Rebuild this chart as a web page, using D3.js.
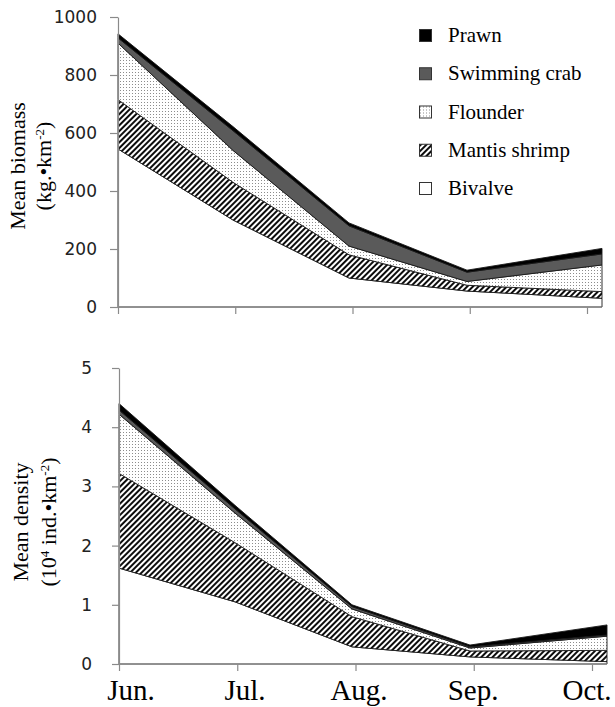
<!DOCTYPE html>
<html><head><meta charset="utf-8">
<script src="https://cdn.jsdelivr.net/npm/d3@7"></script>
<style>body{margin:0;background:#fff;} svg{display:block;}</style>
</head><body>
<svg id="c" width="615" height="707"></svg>
<script>
// ---------- data ----------
const months = ["Jun.", "Jul.", "Aug.", "Sep.", "Oct."];
const species = ["Bivalve", "Mantis shrimp", "Flounder", "Swimming crab", "Prawn"];
const legendOrder = ["Prawn", "Swimming crab", "Flounder", "Mantis shrimp", "Bivalve"];

// Mean biomass (kg·km-2)
const biomassBivalve  = [545, 300, 100, 55, 30];
const biomassMantis   = [170, 130, 80, 20, 23];
const biomassFlounder = [195, 110, 30, 13, 92];
const biomassCrab     = [18, 68, 70, 32, 38];
const biomassPrawn    = [14, 14, 10, 7, 19];
const biomassTicks    = [0, 200, 400, 600, 800, 1000];

// Mean density (10^4 ind·km-2)
const densityBivalve  = [1.62, 1.05, 0.29, 0.12, 0.04];
const densityMantis   = [1.60, 1.00, 0.51, 0.10, 0.19];
const densityFlounder = [1.00, 0.50, 0.13, 0.05, 0.24];
const densityCrab     = [0.07, 0.07, 0.04, 0.02, 0.02];
const densityPrawn    = [0.11, 0.06, 0.03, 0.03, 0.17];
const densityTicks    = [0, 1, 2, 3, 4, 5];

// ---------- setup ----------
const svg = d3.select("#c");
const defs = svg.append("defs");

// dotted pattern (Flounder)
const dots = defs.append("pattern").attr("id", "dots")
  .attr("patternUnits", "userSpaceOnUse").attr("width", 3).attr("height", 3);
dots.append("rect").attr("width", 3).attr("height", 3).attr("fill", "#fff");
dots.append("rect").attr("width", 1).attr("height", 1).attr("fill", "#8c8c8c");

// hatch pattern (Mantis shrimp)
const hatch = defs.append("pattern").attr("id", "hatch")
  .attr("patternUnits", "userSpaceOnUse").attr("width", 4).attr("height", 4)
  .attr("patternTransform", "rotate(45)");
hatch.append("rect").attr("width", 4).attr("height", 4).attr("fill", "#fff");
hatch.append("line").attr("x1", 1).attr("y1", 0).attr("x2", 1).attr("y2", 4)
  .attr("stroke", "#000").attr("stroke-width", 1.9);

const fills = {
  "Bivalve": "#ffffff",
  "Mantis shrimp": "url(#hatch)",
  "Flounder": "url(#dots)",
  "Swimming crab": "#5a5a5a",
  "Prawn": "#000000"
};

function buildRows(arrs) {
  return months.map((m, i) => {
    const r = { month: i };
    species.forEach((s, k) => r[s] = arrs[k][i]);
    return r;
  });
}

function drawPanel(opts) {
  const { rows, ticks, yMax, top, bottom, left, right, tickEnd, dataRange, labelDx, tickLen } = opts;
  const y = d3.scaleLinear().domain([0, yMax]).range([bottom, top]);
  const xData = d3.scaleLinear().domain([0, 1, 2, 3, 4]).range(dataRange);
  const xTick = d3.scaleLinear().domain([0, 4]).range([left, tickEnd]);

  const stack = d3.stack().keys(species)(rows);
  const area = d3.area()
    .x(d => xData(d.data.month))
    .y0(d => y(d[0]))
    .y1(d => y(d[1]));

  const g = svg.append("g");
  g.selectAll("path.layer").data(stack).join("path")
    .attr("class", "layer")
    .attr("d", area)
    .attr("fill", d => fills[d.key])
    .attr("stroke", "#1a1a1a")
    .attr("stroke-width", 0.9)
    .attr("stroke-linejoin", "round");

  // y axis
  const ya = svg.append("g").attr("transform", `translate(${left},0)`)
    .call(d3.axisLeft(y).tickValues(ticks).tickFormat(d => String(d))
      .tickSize(tickLen).tickSizeOuter(0).tickPadding(labelDx));
  ya.select(".domain").attr("stroke", "#8a8a8a").attr("stroke-width", 1.2);
  ya.selectAll(".tick line").attr("stroke", "#8a8a8a").attr("stroke-width", 1.2);
  ya.selectAll(".tick text").attr("font-family", "DejaVu Sans").attr("font-size", 17).attr("fill", "#222");

  // x axis
  const xa = svg.append("g").attr("transform", `translate(0,${bottom})`)
    .call(d3.axisBottom(xTick).tickValues([0, 1, 2, 3, 4]).tickFormat("").tickSize(7).tickSizeOuter(0));
  xa.select(".domain").remove();
  xa.append("line").attr("x1", left).attr("x2", right).attr("y1", 0).attr("y2", 0)
    .attr("stroke", "#8a8a8a").attr("stroke-width", 1.2);
  xa.selectAll(".tick line").attr("stroke", "#8a8a8a").attr("stroke-width", 1.2);
  return { y, xData };
}

drawPanel({
  rows: buildRows([biomassBivalve, biomassMantis, biomassFlounder, biomassCrab, biomassPrawn]),
  ticks: biomassTicks, yMax: 1000, top: 17, bottom: 307, left: 118, right: 602,
  tickEnd: 587, dataRange: [118, 233, 349, 467, 602], labelDx: 13, tickLen: 8
});

drawPanel({
  rows: buildRows([densityBivalve, densityMantis, densityFlounder, densityCrab, densityPrawn]),
  ticks: densityTicks, yMax: 5, top: 368, bottom: 664, left: 119, right: 607,
  tickEnd: 592, dataRange: [119, 235, 352, 470, 607], labelDx: 20, tickLen: 7
});

// month labels (bottom)
const xLab = d3.scaleLinear().domain([0, 4]).range([131, 587]);
svg.append("g").selectAll("text").data(months).join("text")
  .attr("x", (d, i) => xLab(i)).attr("y", 700)
  .attr("text-anchor", "middle")
  .attr("font-family", "Liberation Serif").attr("font-size", 29)
  .attr("fill", "#000").text(d => d);

// y titles
function yTitle(cx, cy, lines) {
  const g = svg.append("g").attr("transform", `translate(${cx},${cy}) rotate(-90)`);
  lines.forEach(l => {
    const t = g.append("text").attr("x", 0).attr("y", l.dy)
      .attr("text-anchor", "middle")
      .attr("font-family", "Liberation Serif").attr("font-size", 22).attr("fill", "#000");
    l.parts.forEach(p => {
      const ts = t.append("tspan").text(p.t);
      if (p.sup) ts.attr("baseline-shift", "super").attr("font-size", 13);
    });
  });
}
yTitle(0, 166, [
  { dy: 25, parts: [{ t: "Mean biomass" }] },
  { dy: 51, parts: [{ t: "(kg.\u2022km" }, { t: "-2", sup: true }, { t: ")" }] }
]);
yTitle(0, 522, [
  { dy: 28, parts: [{ t: "Mean density" }] },
  { dy: 56, parts: [{ t: "(10" }, { t: "4", sup: true }, { t: " ind.\u2022km" }, { t: "-2", sup: true }, { t: ")" }] }
]);

// legend
const legY = d3.scalePoint().domain(legendOrder).range([42, 195]);
const lg = svg.append("g").selectAll("g").data(legendOrder).join("g")
  .attr("transform", d => `translate(0,${legY(d)})`);
lg.append("rect").attr("x", 419.5).attr("y", -12.5).attr("width", 12).attr("height", 12)
  .attr("fill", d => fills[d]).attr("stroke", "#333").attr("stroke-width", 1);
lg.append("text").attr("x", 448).attr("y", 0)
  .attr("font-family", "Liberation Serif").attr("font-size", 21).attr("fill", "#000")
  .text(d => d);
</script>
</body></html>
